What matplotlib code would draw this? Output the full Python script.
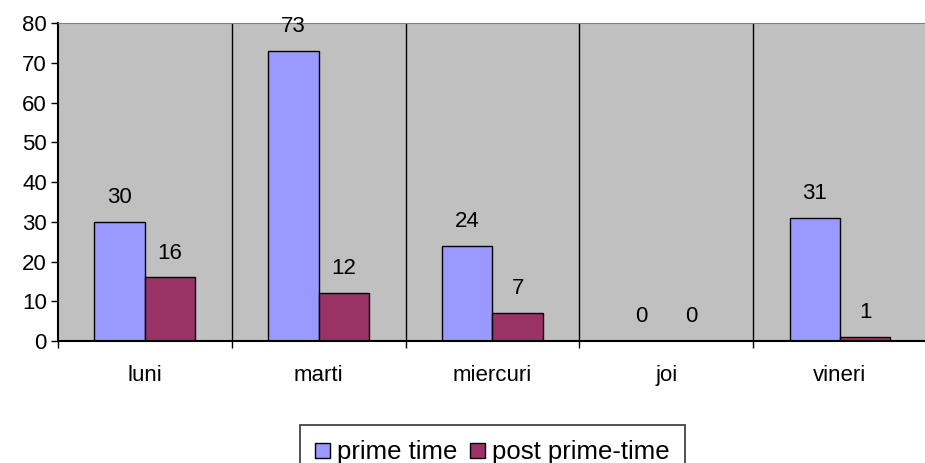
import matplotlib.pyplot as plt
from matplotlib.patches import Patch
import numpy as np

plt.rcParams['font.family'] = ['Liberation Sans', 'DejaVu Sans']

# data
days = ['luni', 'marti', 'miercuri', 'joi', 'vineri']
prime_time = [30, 73, 24, 0, 31]
post_prime = [16, 12, 7, 0, 1]

fs = 16

fig = plt.figure(figsize=(9.25, 4.63), dpi=100)
ax = fig.add_axes([0.0627, 0.2635, 0.9373 + 0.002, 0.6865])
ax.set_facecolor('#c0c0c0')

x = np.arange(len(days))
w = 0.29
b1 = ax.bar(x - w/2, prime_time, w, color='#9999ff', edgecolor='black', linewidth=1)
b2 = ax.bar(x + w/2, post_prime, w, color='#993366', edgecolor='black', linewidth=1)

for bars, vals in [(b1, prime_time), (b2, post_prime)]:
    for r, v in zip(bars, vals):
        ax.annotate(str(v), (r.get_x() + r.get_width()/2, v), xytext=(0, 10),
                    textcoords='offset points', ha='center', va='bottom', fontsize=fs)

# separators between categories
for s in np.arange(0.5, len(days) - 0.5, 1):
    ax.axvline(s, color='black', linewidth=1)

ax.set_xlim(-0.5, len(days) - 0.5)
ax.set_ylim(0, 80)
ax.set_yticks(range(0, 81, 10))
ax.tick_params(axis='y', labelsize=fs, length=5, width=1, direction='out', pad=3)

ax.set_xticks(np.arange(-0.5, len(days), 1))
ax.set_xticklabels([])
ax.set_xticks(x, minor=True)
ax.set_xticklabels(days, minor=True)
ax.tick_params(axis='x', which='major', length=5, width=1, direction='out')
ax.tick_params(axis='x', which='minor', length=0, labelsize=fs, pad=17)

ax.spines['right'].set_visible(False)
ax.spines['top'].set_color('#808080')
ax.spines['left'].set_linewidth(1.5)
ax.spines['bottom'].set_linewidth(1.5)

handles = [Patch(facecolor='#9999ff', edgecolor='black', label='prime time'),
           Patch(facecolor='#993366', edgecolor='black', label='post prime-time')]
leg = fig.legend(handles=handles, loc='upper left', bbox_to_anchor=(300/925, 1 - 425/463), ncol=2,
                 fontsize=18.5, frameon=True, fancybox=False, edgecolor='black',
                 handlelength=0.55, handleheight=0.55, handletextpad=0.3, columnspacing=0.5,
                 borderpad=0.6, borderaxespad=0)
leg.get_frame().set_linewidth(1.2)

fig.savefig('out.png', dpi=100)
